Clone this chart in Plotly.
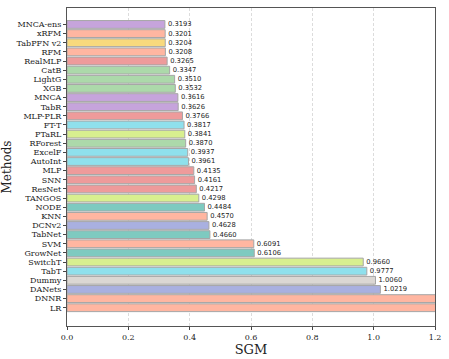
import plotly.graph_objects as go

methods = [
    "MNCA-ens", "xRFM", "TabPFN v2", "RFM", "RealMLP", "CatB", "LightG", "XGB",
    "MNCA", "TabR", "MLP-PLR", "FT-T", "PTaRL", "RForest", "ExcelF", "AutoInt",
    "MLP", "SNN", "ResNet", "TANGOS", "NODE", "KNN", "DCNv2", "TabNet",
    "SVM", "GrowNet", "SwitchT", "TabT", "Dummy", "DANets", "DNNR", "LR",
]
sgm = [
    0.3193, 0.3201, 0.3204, 0.3208, 0.3265, 0.3347, 0.3510, 0.3532,
    0.3616, 0.3626, 0.3766, 0.3817, 0.3841, 0.3870, 0.3937, 0.3961,
    0.4135, 0.4161, 0.4217, 0.4298, 0.4484, 0.4570, 0.4628, 0.4660,
    0.6091, 0.6106, 0.9660, 0.9777, 1.0060, 1.0219, 1.45, 1.60,
]
groups = [
    "purple", "salmon", "yellow", "salmon", "red", "green", "green", "green",
    "purple", "purple", "red", "cyan", "lime", "green", "cyan", "cyan",
    "red", "red", "red", "lime", "teal", "salmon", "blue", "teal",
    "salmon", "teal", "lime", "cyan", "gray", "blue", "salmon", "salmon",
]

palette = {
    "purple": "#c6a4dc",
    "salmon": "#ffb6a1",
    "yellow": "#f8d97d",
    "red": "#ee9b9b",
    "green": "#acd9aa",
    "cyan": "#8fe0ec",
    "lime": "#d8ef8f",
    "teal": "#7ecac0",
    "blue": "#a9b0e0",
    "gray": "#dbd7d3",
}

# bars past the axis limit are clipped, so they get no value label
labels = [f"{v:.4f}" if v <= 1.2 else "" for v in sgm]

fig = go.Figure()
fig.add_trace(
    go.Bar(
        x=sgm,
        y=methods,
        orientation="h",
        width=0.85,
        marker=dict(
            color=[palette[g] for g in groups],
            line=dict(color="#a6a6a6", width=1),
        ),
        text=labels,
        textposition="outside",
        textfont=dict(family="DejaVu Sans", size=7, color="#222222"),
        cliponaxis=True,
    )
)

fig.update_layout(
    width=449,
    height=359,
    margin=dict(l=67, r=14, t=8, b=33),
    plot_bgcolor="white",
    paper_bgcolor="white",
    showlegend=False,
    font=dict(family="DejaVu Serif", color="#222222"),
    xaxis=dict(
        range=[0, 1.2],
        tickvals=[0, 0.2, 0.4, 0.6, 0.8, 1.0, 1.2],
        ticktext=["0.0", "0.2", "0.4", "0.6", "0.8", "1.0", "1.2"],
        tickfont=dict(size=8),
        ticks="outside",
        ticklen=3,
        showgrid=True,
        gridcolor="#dcdcdc",
        griddash="3px,2px",
        gridwidth=0.7,
        zeroline=False,
        showline=True,
        linecolor="#555555",
        linewidth=1.2,
        mirror=True,
        automargin=False,
        title=dict(text="SGM", font=dict(size=13), standoff=1),
    ),
    yaxis=dict(
        categoryorder="array",
        categoryarray=methods,
        tickmode="array",
        tickvals=methods,
        range=[len(methods) - 1 + 2.0, -1.8],
        tickfont=dict(size=8),
        ticks="outside",
        ticklen=3,
        showgrid=False,
        showline=True,
        linecolor="#555555",
        linewidth=1.2,
        mirror=True,
        automargin=False,
        title=dict(text="Methods", font=dict(size=12), standoff=4),
    ),
)

# drop the browser's default body margin so the figure sits at the page corner
fig.write_html(
    "out.html",
    config={"displayModeBar": False},
    post_script="document.body.style.margin='0';",
)
